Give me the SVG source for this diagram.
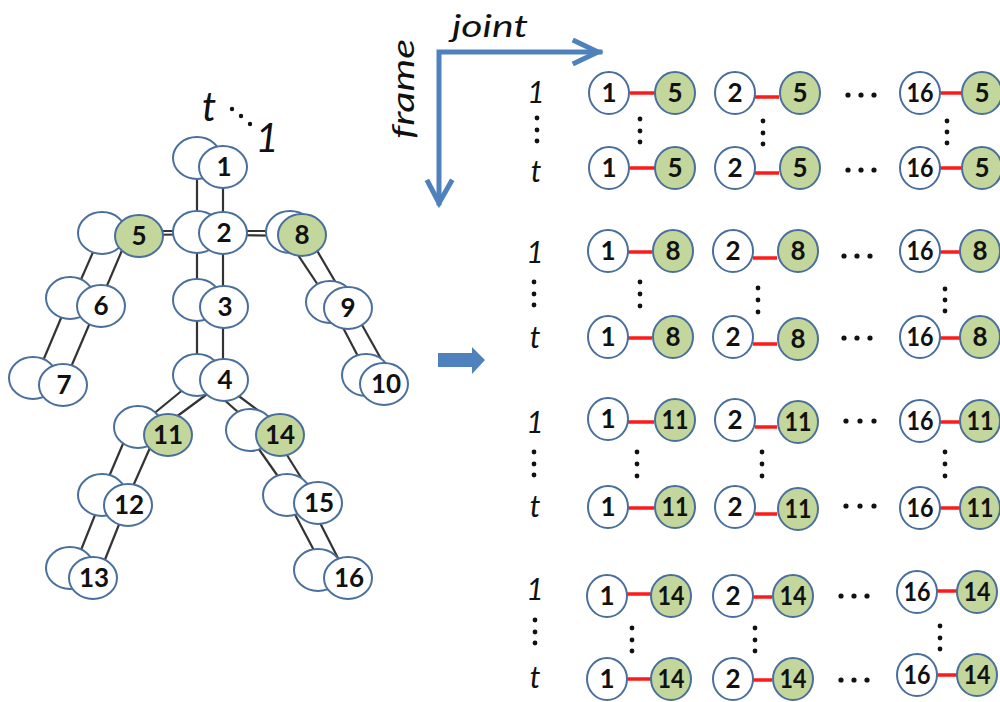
<svg xmlns="http://www.w3.org/2000/svg" width="1000" height="702" viewBox="0 0 1000 702">
<defs>
<style>
.bk{fill:#fff;stroke:#4a6f9c;stroke-width:2}
.n{fill:#fff;stroke:#4a6f9c;stroke-width:2}
.g{fill:#c3d69b;stroke:#4a6f9c;stroke-width:2}
.e{stroke:#333;stroke-width:2.2;fill:none}
.r{stroke:#ff1a1a;stroke-width:3.5}
.num{font-family:Lato,"Liberation Sans",sans-serif;font-weight:bold;font-size:26px;fill:#111;text-anchor:middle}
.rn{font-family:Lato,"Liberation Sans",sans-serif;font-weight:bold;font-size:26px;fill:#111;text-anchor:middle}
.lbl{font-family:Lato,"Liberation Sans",sans-serif;font-style:italic;fill:#111;text-anchor:middle}
.ax{stroke:#4f81bd;stroke-width:5;fill:none;stroke-linecap:square}
.d{fill:#111}
</style>
</defs>
<rect width="1000" height="702" fill="#fff"/>

<!-- connectors -->
<g id="connectors">
<line class="e" x1="223" y1="170" x2="223" y2="230"/>
<line class="e" x1="197" y1="160" x2="197" y2="230"/>
<line class="e" x1="223" y1="235" x2="223" y2="305"/>
<line class="e" x1="197" y1="233" x2="197" y2="300"/>
<line class="e" x1="223" y1="308" x2="223" y2="378"/>
<line class="e" x1="197" y1="300" x2="197" y2="375"/>
<line class="e" x1="139" y1="235" x2="223" y2="234"/>
<line class="e" x1="102" y1="231" x2="197" y2="231"/>
<line class="e" x1="223" y1="235" x2="302" y2="236"/>
<line class="e" x1="197" y1="231" x2="290" y2="231"/>
<line class="e" x1="126" y1="241" x2="103" y2="295"/>
<line class="e" x1="97" y1="243" x2="76" y2="291"/>
<line class="e" x1="92" y1="318" x2="68" y2="374"/>
<line class="e" x1="64" y1="311" x2="40" y2="368"/>
<line class="e" x1="312" y1="242" x2="343" y2="295"/>
<line class="e" x1="294" y1="249" x2="322" y2="291"/>
<line class="e" x1="357" y1="316" x2="385" y2="366"/>
<line class="e" x1="338" y1="318" x2="362" y2="364"/>
<line class="e" x1="214" y1="389" x2="172" y2="420"/>
<line class="e" x1="190" y1="384" x2="146" y2="420"/>
<line class="e" x1="232" y1="391" x2="275" y2="423"/>
<line class="e" x1="213" y1="390" x2="247" y2="420"/>
<line class="e" x1="153" y1="441" x2="130" y2="493"/>
<line class="e" x1="128" y1="432" x2="105" y2="486"/>
<line class="e" x1="122" y1="517" x2="102" y2="567"/>
<line class="e" x1="99" y1="505" x2="77" y2="560"/>
<line class="e" x1="282" y1="447" x2="310" y2="492"/>
<line class="e" x1="256" y1="445" x2="284" y2="485"/>
<line class="e" x1="317" y1="517" x2="342" y2="566"/>
<line class="e" x1="290" y1="505" x2="318" y2="558"/>

<line class="r" x1="630" y1="93" x2="656" y2="93"/>
<line class="r" x1="755" y1="97" x2="779" y2="97"/>
<line class="r" x1="940" y1="93" x2="962" y2="93"/>
<line class="r" x1="630" y1="168" x2="656" y2="168"/>
<line class="r" x1="755" y1="173" x2="779" y2="173"/>
<line class="r" x1="940" y1="168" x2="962" y2="168"/>

<line class="r" x1="628" y1="252" x2="652" y2="252"/>
<line class="r" x1="753" y1="258" x2="777" y2="258"/>
<line class="r" x1="940" y1="252" x2="960" y2="252"/>
<line class="r" x1="628" y1="338" x2="652" y2="338"/>
<line class="r" x1="753" y1="344" x2="777" y2="344"/>
<line class="r" x1="940" y1="338" x2="960" y2="338"/>

<line class="r" x1="628" y1="422" x2="654" y2="422"/>
<line class="r" x1="755" y1="427" x2="777" y2="427"/>
<line class="r" x1="940" y1="422" x2="960" y2="422"/>
<line class="r" x1="628" y1="508" x2="654" y2="508"/>
<line class="r" x1="755" y1="514" x2="777" y2="514"/>
<line class="r" x1="940" y1="508" x2="960" y2="508"/>

<line class="r" x1="626" y1="594" x2="651" y2="594"/>
<line class="r" x1="753" y1="597" x2="772" y2="597"/>
<line class="r" x1="937" y1="591" x2="957" y2="591"/>
<line class="r" x1="626" y1="679" x2="651" y2="679"/>
<line class="r" x1="753" y1="680" x2="772" y2="680"/>
<line class="r" x1="937" y1="675" x2="957" y2="675"/>
</g>

<!-- skeleton nodes -->
<g id="j1"><ellipse class="bk" cx="197" cy="158" rx="24" ry="21"/><ellipse class="n" cx="223" cy="167" rx="24" ry="21"/><text class="num" x="224" y="176">1</text></g>
<g id="j2"><ellipse class="bk" cx="197" cy="232" rx="24" ry="21"/><ellipse class="n" cx="223" cy="233" rx="24" ry="21"/><text class="num" x="224" y="242">2</text></g>
<g id="j3"><ellipse class="bk" cx="197" cy="300" rx="24" ry="21"/><ellipse class="n" cx="224" cy="307" rx="24" ry="21"/><text class="num" x="225" y="316">3</text></g>
<g id="j4"><ellipse class="bk" cx="197" cy="375" rx="24" ry="21"/><ellipse class="n" cx="224" cy="380" rx="24" ry="21"/><text class="num" x="225" y="389">4</text></g>
<g id="j5"><ellipse class="bk" cx="102" cy="233" rx="24" ry="21"/><ellipse class="g" cx="139" cy="236" rx="24" ry="21"/><text class="num" x="139" y="245">5</text></g>
<g id="j6"><ellipse class="bk" cx="70" cy="298" rx="24" ry="21"/><ellipse class="n" cx="101" cy="306" rx="24" ry="21"/><text class="num" x="101" y="315">6</text></g>
<g id="j7"><ellipse class="bk" cx="33" cy="378" rx="24" ry="21"/><ellipse class="n" cx="63" cy="385" rx="24" ry="21"/><text class="num" x="64" y="394">7</text></g>
<g id="j8"><ellipse class="bk" cx="290" cy="232" rx="24" ry="21"/><ellipse class="g" cx="302" cy="235" rx="24" ry="21"/><text class="num" x="302" y="244">8</text></g>
<g id="j9"><ellipse class="bk" cx="330" cy="302" rx="24" ry="21"/><ellipse class="n" cx="348" cy="308" rx="24" ry="21"/><text class="num" x="348" y="317">9</text></g>
<g id="j10"><ellipse class="bk" cx="366" cy="375" rx="24" ry="21"/><ellipse class="n" cx="384" cy="384" rx="24" ry="21"/><text class="num" x="386" y="393">10</text></g>
<g id="j11"><ellipse class="bk" cx="138" cy="427" rx="24" ry="21"/><ellipse class="g" cx="168" cy="435" rx="24" ry="21"/><text class="num" x="168" y="444">11</text></g>
<g id="j12"><ellipse class="bk" cx="102" cy="495" rx="24" ry="21"/><ellipse class="n" cx="128" cy="505" rx="24" ry="21"/><text class="num" x="129" y="514">12</text></g>
<g id="j13"><ellipse class="bk" cx="70" cy="568" rx="24" ry="21"/><ellipse class="n" cx="93" cy="578" rx="24" ry="21"/><text class="num" x="94" y="587">13</text></g>
<g id="j14"><ellipse class="bk" cx="250" cy="430" rx="24" ry="21"/><ellipse class="g" cx="280" cy="435" rx="24" ry="21"/><text class="num" x="280" y="444">14</text></g>
<g id="j15"><ellipse class="bk" cx="287" cy="495" rx="24" ry="21"/><ellipse class="n" cx="318" cy="503" rx="24" ry="21"/><text class="num" x="319" y="512">15</text></g>
<g id="j16"><ellipse class="bk" cx="318" cy="570" rx="24" ry="21"/><ellipse class="n" cx="348" cy="578" rx="24" ry="21"/><text class="num" x="349" y="587">16</text></g>

<!-- t ... 1 label -->
<g id="time-label">
<text class="lbl" x="209" y="121" font-size="40">t</text>
<circle class="d" cx="232" cy="109" r="2.2"/><circle class="d" cx="241" cy="116" r="2.2"/><circle class="d" cx="250" cy="124" r="2.2"/>
<text class="lbl" x="267" y="152" font-size="40">1</text>
</g>

<!-- axes -->
<g id="axes">
<polyline class="ax" points="600,52 439,52 439,203"/>
<polyline class="ax" points="575,41 598,52 575,63"/>
<polyline class="ax" points="428,182 439,203 451,182"/>
<text class="lbl" x="490" y="37" font-size="30" textLength="76" lengthAdjust="spacingAndGlyphs">joint</text>
<text class="lbl" font-size="30" transform="translate(414,89) rotate(-90)" textLength="100" lengthAdjust="spacingAndGlyphs">frame</text>
</g>

<!-- block arrow -->
<g id="arrow"><polygon points="438,353 472,353 472,347 485,360 472,374 472,367 438,367" fill="#4f81bd"/></g>

<!-- row labels -->
<g id="row-labels">
<text class="lbl" x="536" y="103" font-size="30">1</text>
<circle class="d" cx="537" cy="118" r="2.4"/><circle class="d" cx="537" cy="130" r="2.4"/><circle class="d" cx="537" cy="141" r="2.4"/>
<text class="lbl" x="536" y="182" font-size="30">t</text>
<text class="lbl" x="535" y="263" font-size="30">1</text>
<circle class="d" cx="534" cy="282" r="2.4"/><circle class="d" cx="534" cy="294" r="2.4"/><circle class="d" cx="534" cy="305" r="2.4"/>
<text class="lbl" x="535" y="348" font-size="30">t</text>
<text class="lbl" x="535" y="433" font-size="30">1</text>
<circle class="d" cx="534" cy="452" r="2.4"/><circle class="d" cx="534" cy="464" r="2.4"/><circle class="d" cx="534" cy="475" r="2.4"/>
<text class="lbl" x="535" y="517" font-size="30">t</text>
<text class="lbl" x="535" y="600" font-size="30">1</text>
<circle class="d" cx="535" cy="620" r="2.4"/><circle class="d" cx="535" cy="632" r="2.4"/><circle class="d" cx="535" cy="643" r="2.4"/>
<text class="lbl" x="535" y="688" font-size="30">t</text>
</g>

<!-- group 1 (joint 5) -->
<g id="g5">
<ellipse class="n" cx="609" cy="93" rx="20" ry="21"/><text class="rn" x="609" y="102">1</text>
<ellipse class="g" cx="675" cy="93" rx="20" ry="21"/><text class="rn" x="675" y="102">5</text>
<ellipse class="n" cx="735" cy="93" rx="20" ry="21"/><text class="rn" x="735" y="102">2</text>
<ellipse class="g" cx="800" cy="93" rx="20" ry="21"/><text class="rn" x="800" y="102">5</text>
<circle class="d" cx="848" cy="95" r="2.6"/><circle class="d" cx="861" cy="95" r="2.6"/><circle class="d" cx="874" cy="95" r="2.6"/>
<ellipse class="n" cx="920" cy="93" rx="20" ry="21"/><text class="rn" x="920" y="102" textLength="27" lengthAdjust="spacingAndGlyphs">16</text>
<ellipse class="g" cx="982" cy="93" rx="20" ry="21"/><text class="rn" x="982" y="102">5</text>
<circle class="d" cx="640" cy="119" r="2.4"/><circle class="d" cx="640" cy="131" r="2.4"/><circle class="d" cx="640" cy="142" r="2.4"/>
<circle class="d" cx="763" cy="121" r="2.4"/><circle class="d" cx="763" cy="133" r="2.4"/><circle class="d" cx="763" cy="144" r="2.4"/>
<circle class="d" cx="947" cy="121" r="2.4"/><circle class="d" cx="947" cy="132" r="2.4"/><circle class="d" cx="947" cy="143" r="2.4"/>
<ellipse class="n" cx="609" cy="168" rx="20" ry="21"/><text class="rn" x="609" y="177">1</text>
<ellipse class="g" cx="675" cy="168" rx="20" ry="21"/><text class="rn" x="675" y="177">5</text>
<ellipse class="n" cx="735" cy="168" rx="20" ry="21"/><text class="rn" x="735" y="177">2</text>
<ellipse class="g" cx="800" cy="168" rx="20" ry="21"/><text class="rn" x="800" y="177">5</text>
<circle class="d" cx="848" cy="170" r="2.6"/><circle class="d" cx="861" cy="170" r="2.6"/><circle class="d" cx="874" cy="170" r="2.6"/>
<ellipse class="n" cx="920" cy="168" rx="20" ry="21"/><text class="rn" x="920" y="177" textLength="27" lengthAdjust="spacingAndGlyphs">16</text>
<ellipse class="g" cx="982" cy="168" rx="20" ry="21"/><text class="rn" x="982" y="177">5</text>
</g>

<!-- group 2 (joint 8) -->
<g id="g8">
<ellipse class="n" cx="608" cy="251" rx="20" ry="21"/><text class="rn" x="608" y="260">1</text>
<ellipse class="g" cx="673" cy="251" rx="20" ry="21"/><text class="rn" x="673" y="260">8</text>
<ellipse class="n" cx="733" cy="251" rx="20" ry="21"/><text class="rn" x="733" y="260">2</text>
<ellipse class="g" cx="798" cy="251" rx="20" ry="21"/><text class="rn" x="798" y="260">8</text>
<circle class="d" cx="844" cy="256" r="2.6"/><circle class="d" cx="857" cy="256" r="2.6"/><circle class="d" cx="870" cy="256" r="2.6"/>
<ellipse class="n" cx="920" cy="251" rx="20" ry="21"/><text class="rn" x="920" y="260" textLength="27" lengthAdjust="spacingAndGlyphs">16</text>
<ellipse class="g" cx="980" cy="251" rx="20" ry="21"/><text class="rn" x="980" y="260">8</text>
<circle class="d" cx="640" cy="282" r="2.4"/><circle class="d" cx="640" cy="294" r="2.4"/><circle class="d" cx="640" cy="306" r="2.4"/>
<circle class="d" cx="758" cy="288" r="2.4"/><circle class="d" cx="758" cy="300" r="2.4"/><circle class="d" cx="758" cy="312" r="2.4"/>
<circle class="d" cx="945" cy="289" r="2.4"/><circle class="d" cx="945" cy="300" r="2.4"/><circle class="d" cx="945" cy="311" r="2.4"/>
<ellipse class="n" cx="608" cy="337" rx="20" ry="21"/><text class="rn" x="608" y="346">1</text>
<ellipse class="g" cx="673" cy="337" rx="20" ry="21"/><text class="rn" x="673" y="346">8</text>
<ellipse class="n" cx="733" cy="337" rx="20" ry="21"/><text class="rn" x="733" y="346">2</text>
<ellipse class="g" cx="798" cy="339" rx="20" ry="21"/><text class="rn" x="798" y="348">8</text>
<circle class="d" cx="844" cy="338" r="2.6"/><circle class="d" cx="857" cy="338" r="2.6"/><circle class="d" cx="870" cy="338" r="2.6"/>
<ellipse class="n" cx="920" cy="337" rx="20" ry="21"/><text class="rn" x="920" y="346" textLength="27" lengthAdjust="spacingAndGlyphs">16</text>
<ellipse class="g" cx="980" cy="337" rx="20" ry="21"/><text class="rn" x="980" y="346">8</text>
</g>

<!-- group 3 (joint 11) -->
<g id="g11">
<ellipse class="n" cx="608" cy="419" rx="20" ry="21"/><text class="rn" x="608" y="428">1</text>
<ellipse class="g" cx="675" cy="420" rx="20" ry="21"/><text class="rn" x="675" y="429" textLength="27" lengthAdjust="spacingAndGlyphs">11</text>
<ellipse class="n" cx="735" cy="420" rx="20" ry="21"/><text class="rn" x="735" y="429">2</text>
<ellipse class="g" cx="798" cy="422" rx="20" ry="21"/><text class="rn" x="798" y="431" textLength="27" lengthAdjust="spacingAndGlyphs">11</text>
<circle class="d" cx="846" cy="421" r="2.6"/><circle class="d" cx="860" cy="421" r="2.6"/><circle class="d" cx="874" cy="421" r="2.6"/>
<ellipse class="n" cx="920" cy="421" rx="20" ry="21"/><text class="rn" x="920" y="430" textLength="27" lengthAdjust="spacingAndGlyphs">16</text>
<ellipse class="g" cx="980" cy="421" rx="20" ry="21"/><text class="rn" x="980" y="430" textLength="27" lengthAdjust="spacingAndGlyphs">11</text>
<circle class="d" cx="637" cy="452" r="2.4"/><circle class="d" cx="637" cy="464" r="2.4"/><circle class="d" cx="637" cy="476" r="2.4"/>
<circle class="d" cx="762" cy="452" r="2.4"/><circle class="d" cx="762" cy="464" r="2.4"/><circle class="d" cx="762" cy="476" r="2.4"/>
<circle class="d" cx="945" cy="452" r="2.4"/><circle class="d" cx="945" cy="464" r="2.4"/><circle class="d" cx="945" cy="476" r="2.4"/>
<ellipse class="n" cx="608" cy="507" rx="20" ry="21"/><text class="rn" x="608" y="516">1</text>
<ellipse class="g" cx="675" cy="507" rx="20" ry="21"/><text class="rn" x="675" y="516" textLength="27" lengthAdjust="spacingAndGlyphs">11</text>
<ellipse class="n" cx="735" cy="507" rx="20" ry="21"/><text class="rn" x="735" y="516">2</text>
<ellipse class="g" cx="798" cy="509" rx="20" ry="21"/><text class="rn" x="798" y="518" textLength="27" lengthAdjust="spacingAndGlyphs">11</text>
<circle class="d" cx="846" cy="506" r="2.6"/><circle class="d" cx="860" cy="506" r="2.6"/><circle class="d" cx="874" cy="506" r="2.6"/>
<ellipse class="n" cx="920" cy="508" rx="20" ry="21"/><text class="rn" x="920" y="517" textLength="27" lengthAdjust="spacingAndGlyphs">16</text>
<ellipse class="g" cx="980" cy="508" rx="20" ry="21"/><text class="rn" x="980" y="517" textLength="27" lengthAdjust="spacingAndGlyphs">11</text>
</g>

<!-- group 4 (joint 14) -->
<g id="g14">
<ellipse class="n" cx="607" cy="596" rx="20" ry="21"/><text class="rn" x="607" y="605">1</text>
<ellipse class="g" cx="671" cy="596" rx="20" ry="21"/><text class="rn" x="671" y="605" textLength="27" lengthAdjust="spacingAndGlyphs">14</text>
<ellipse class="n" cx="733" cy="596" rx="20" ry="21"/><text class="rn" x="733" y="605">2</text>
<ellipse class="g" cx="793" cy="596" rx="20" ry="21"/><text class="rn" x="793" y="605" textLength="27" lengthAdjust="spacingAndGlyphs">14</text>
<circle class="d" cx="841" cy="596" r="2.6"/><circle class="d" cx="854" cy="596" r="2.6"/><circle class="d" cx="867" cy="596" r="2.6"/>
<ellipse class="n" cx="917" cy="592" rx="20" ry="21"/><text class="rn" x="917" y="601" textLength="27" lengthAdjust="spacingAndGlyphs">16</text>
<ellipse class="g" cx="977" cy="592" rx="20" ry="21"/><text class="rn" x="977" y="601" textLength="27" lengthAdjust="spacingAndGlyphs">14</text>
<circle class="d" cx="632" cy="628" r="2.4"/><circle class="d" cx="632" cy="640" r="2.4"/><circle class="d" cx="632" cy="651" r="2.4"/>
<circle class="d" cx="755" cy="628" r="2.4"/><circle class="d" cx="755" cy="640" r="2.4"/><circle class="d" cx="755" cy="651" r="2.4"/>
<circle class="d" cx="940" cy="626" r="2.4"/><circle class="d" cx="940" cy="638" r="2.4"/><circle class="d" cx="940" cy="649" r="2.4"/>
<ellipse class="n" cx="607" cy="679" rx="20" ry="21"/><text class="rn" x="607" y="688">1</text>
<ellipse class="g" cx="671" cy="679" rx="20" ry="21"/><text class="rn" x="671" y="688" textLength="27" lengthAdjust="spacingAndGlyphs">14</text>
<ellipse class="n" cx="733" cy="679" rx="20" ry="21"/><text class="rn" x="733" y="688">2</text>
<ellipse class="g" cx="793" cy="679" rx="20" ry="21"/><text class="rn" x="793" y="688" textLength="27" lengthAdjust="spacingAndGlyphs">14</text>
<circle class="d" cx="841" cy="680" r="2.6"/><circle class="d" cx="854" cy="680" r="2.6"/><circle class="d" cx="867" cy="680" r="2.6"/>
<ellipse class="n" cx="917" cy="675" rx="20" ry="21"/><text class="rn" x="917" y="684" textLength="27" lengthAdjust="spacingAndGlyphs">16</text>
<ellipse class="g" cx="977" cy="675" rx="20" ry="21"/><text class="rn" x="977" y="684" textLength="27" lengthAdjust="spacingAndGlyphs">14</text>
</g>
</svg>
